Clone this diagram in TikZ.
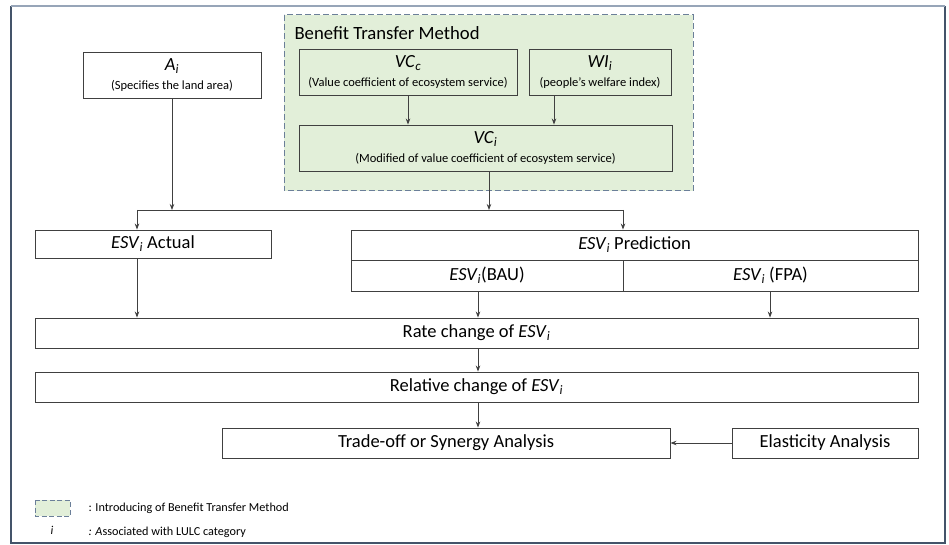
\documentclass[tikz,border=0pt]{standalone}
\usepackage{fontspec}
\setmainfont{Carlito}
\usetikzlibrary{arrows.meta}
\definecolor{boxline}{HTML}{404040}
\definecolor{greenfill}{HTML}{E2EFD9}
\definecolor{dashline}{HTML}{6B7F99}
\definecolor{frameline}{HTML}{44546A}
\definecolor{frametop}{HTML}{97A5B8}
\newcommand{\sbi}[1]{\textsubscript{\textit{#1}}}
\newcommand{\smalltxt}{\fontsize{12.5}{14}\selectfont}
\tikzset{
  box/.style={draw=boxline, line width=0.9pt, rectangle, inner sep=0pt, align=center, font=\fontsize{18.5}{21}\selectfont},
  arr/.style={draw=boxline, line width=0.8pt, -{Stealth[length=6pt,width=4.5pt]}},
  ln/.style={draw=boxline, line width=0.8pt},
  greenbox/.style={draw=dashline, fill=greenfill, line width=1pt, dash pattern=on 6pt off 3pt},
  legtxt/.style={anchor=west, font=\fontsize{12.2}{14}\selectfont}
}
\begin{document}
\begin{tikzpicture}[x=1pt,y=-1pt]
\useasboundingbox (0,0) rectangle (949,545);
% outer frame
\draw[frameline, line width=1.5pt] (11,6) -- (11,543) -- (945,543) -- (945,6);
\draw[frametop, line width=1.5pt] (11,6) -- (945,6);
% benefit transfer area
\draw[greenbox] (284,15) rectangle (693,191);
\node[anchor=west, font=\fontsize{18.7}{21}\selectfont] (btm) at (291,33) {Benefit Transfer Method};
% nodes
\node[box, minimum width=178, minimum height=46] (ai) at (172,75)
  {\textit{A}\sbi{i}\\[-2pt]{\smalltxt (Specifies the land area)}};
\node[box, minimum width=218, minimum height=46] (vcc) at (408,72)
  {\textit{VC}\sbi{c}\\[-2pt]{\smalltxt (Value coefficient of ecosystem service)}};
\node[box, minimum width=142, minimum height=46] (wi) at (600,72)
  {\textit{WI}\sbi{i}\\[-2pt]{\smalltxt (people’s welfare index)}};
\node[box, minimum width=373, minimum height=46] (vci) at (485.5,148)
  {\textit{VC}\sbi{i}\\[-2pt]{\smalltxt (Modified of value coefficient of ecosystem service)}};
\node[box, minimum width=236, minimum height=28] (act) at (153,244) {\textit{ESV}\sbi{i} Actual};
\node[box, minimum width=567, minimum height=30] (pred) at (634.5,245) {\textit{ESV}\sbi{i} Prediction};
\node[box, minimum width=272, minimum height=31] (bau) at (487,275.5) {\textit{ESV}\sbi{i}(BAU)};
\node[box, minimum width=295, minimum height=31] (fpa) at (770.5,275.5) {\textit{ESV}\sbi{i} (FPA)};
\node[box, minimum width=883, minimum height=30] (rate) at (476.5,333) {Rate change of \textit{ESV}\sbi{i}};
\node[box, minimum width=883, minimum height=30] (rel) at (476.5,387) {Relative change of \textit{ESV}\sbi{i}};
\node[box, minimum width=448, minimum height=30] (trade) at (446,443) {Trade-off or Synergy Analysis};
\node[box, minimum width=186, minimum height=30] (elast) at (825,443) {Elasticity Analysis};
% helper coordinates
\coordinate (xa) at (554,0);
\coordinate (xb) at (489,0);
\coordinate (xc) at (137,0);
\coordinate (xd) at (623,0);
\coordinate (xe) at (478,0);
\coordinate (xf) at (770,0);
\coordinate (hl) at (0,210);
\coordinate (hlL) at (137,210);
\coordinate (hlR) at (623,210);
% connectors
\draw[arr] (vcc.south) -- (vcc.south |- vci.north);
\draw[arr] (wi.south -| xa) -- (vci.north -| xa);
\draw[arr] (vci.south -| xb) -- (hl -| xb);
\draw[arr] (ai.south) -- (hl -| ai.south);
\draw[ln] (hlL) -- (hlR);
\draw[arr] (hlL) -- (act.north -| xc);
\draw[arr] (hlR) -- (pred.north -| xd);
\draw[arr] (act.south -| xc) -- (rate.north -| xc);
\draw[arr] (bau.south -| xe) -- (rate.north -| xe);
\draw[arr] (fpa.south -| xf) -- (rate.north -| xf);
\draw[arr] (rate.south -| xe) -- (rel.north -| xe);
\draw[arr] (rel.south -| xe) -- (trade.north -| xe);
\draw[arr] (elast.west) -- (trade.east);
% legend
\draw[greenbox, dash pattern=on 5pt off 2.5pt] (35,500) rectangle (70,516);
\node[legtxt] (leg1) at (85,508) {: Introducing of Benefit Transfer Method};
\node[font=\fontsize{12}{13}\selectfont\itshape] (legi) at (52,530) {i};
\node[legtxt] (leg2) at (85,532) {\textit{: A}ssociated with LULC category};
\end{tikzpicture}
\end{document}
